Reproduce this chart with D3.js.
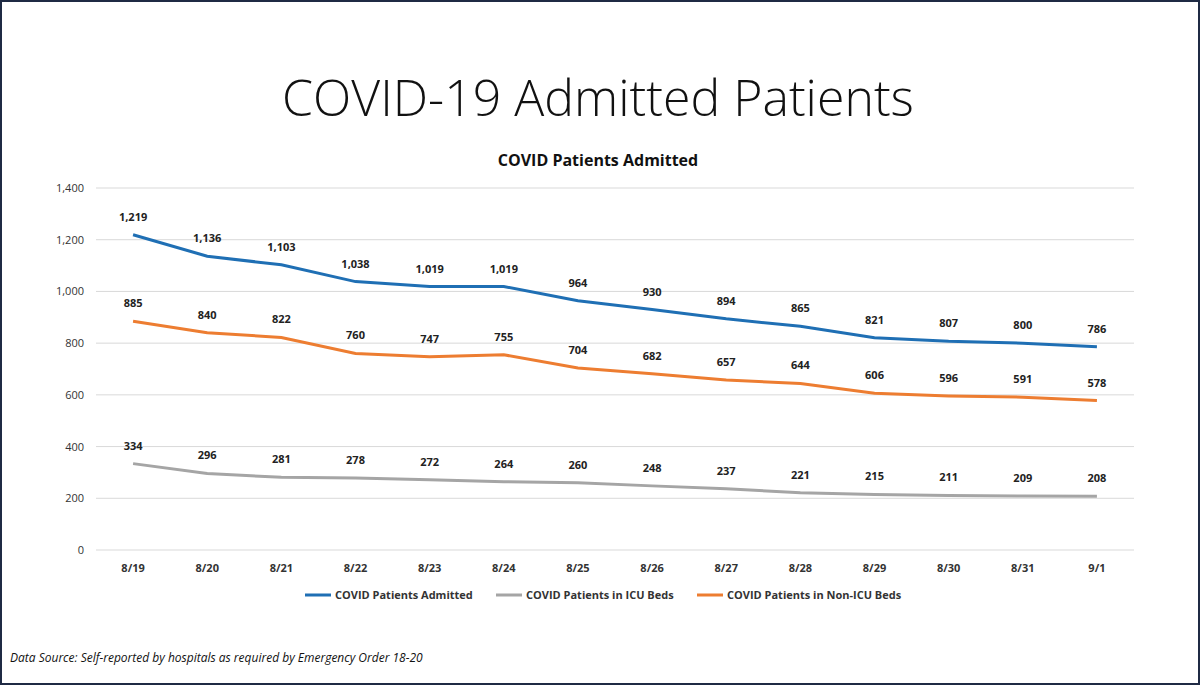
<!DOCTYPE html>
<html><head><meta charset="utf-8">
<script src="https://cdn.jsdelivr.net/npm/d3@7"></script>
<style>body{margin:0;background:#fff;font-family:"Open Sans",sans-serif}</style>
</head><body>
<div id="main"><svg width="1200" height="685"></svg></div>
<script>
// Chart data
var dates = ["8/19","8/20","8/21","8/22","8/23","8/24","8/25","8/26","8/27","8/28","8/29","8/30","8/31","9/1"];
var admitted = [1219,1136,1103,1038,1019,1019,964,930,894,865,821,807,800,786];
var icu = [334,296,281,278,272,264,260,248,237,221,215,211,209,208];
var nonIcu = [885,840,822,760,747,755,704,682,657,644,606,596,591,578];
var yTicks = [0,200,400,600,800,1000,1200,1400];

var series = [
  {name:"COVID Patients Admitted", values:admitted, color:"#1f6fb4"},
  {name:"COVID Patients in ICU Beds", values:icu, color:"#a5a5a5"},
  {name:"COVID Patients in Non-ICU Beds", values:nonIcu, color:"#ed7d31"}
];

var svg = d3.select("#main").select("svg");
svg.append("rect").attr("x",1).attr("y",1).attr("width",1198).attr("height",683)
  .attr("fill","#fff").attr("stroke","#1f2a44").attr("stroke-width",2);

var xScale = d3.scaleBand().domain(dates).range([96,1134]);
var yScale = d3.scaleLinear().domain([0,1400]).range([550,188]);

// Title
svg.append("text").attr("x",598).attr("y",116).attr("text-anchor","middle")
  .attr("font-size",50).attr("font-weight",300).attr("fill","#111").text("COVID-19 Admitted Patients");
svg.append("text").attr("x",598).attr("y",166).attr("text-anchor","middle")
  .attr("font-size",16).attr("font-weight",700).attr("fill","#111").text("COVID Patients Admitted");

// Gridlines
svg.append("g").selectAll("line").data(yTicks).join("line")
  .attr("x1",96).attr("x2",1134)
  .attr("y1",function(d){return yScale(d);}).attr("y2",function(d){return yScale(d);})
  .attr("stroke","#d9d9d9");

// Axes
var yAxis = d3.axisLeft(yScale).tickValues(yTicks).tickSize(0).tickPadding(12).tickFormat(d3.format(","));
var yG = svg.append("g").attr("transform","translate(96,0)").call(yAxis);
yG.select(".domain").remove();
yG.selectAll("text").attr("font-size",11).attr("fill","#333").attr("font-family","Open Sans");

var xAxis = d3.axisBottom(xScale).tickSize(0).tickPadding(14);
var xG = svg.append("g").attr("transform","translate(0,550)").call(xAxis);
xG.select(".domain").remove();
xG.selectAll("text").attr("font-size",11).attr("font-weight",700).attr("fill","#333").attr("font-family","Open Sans");

// Lines and labels
var fmt = d3.format(",");
series.forEach(function(s) {
  var line = d3.line()
    .x(function(d,i){return xScale(dates[i]) + xScale.bandwidth()/2;})
    .y(function(d){return yScale(d);});
  svg.append("path").datum(s.values).attr("d",line)
    .attr("fill","none").attr("stroke",s.color).attr("stroke-width",3);
  svg.append("g").selectAll("text").data(s.values).join("text")
    .attr("x",function(d,i){return xScale(dates[i]) + xScale.bandwidth()/2;})
    .attr("y",function(d){return yScale(d) - 14;})
    .attr("text-anchor","middle").attr("font-size",11).attr("font-weight",700).attr("fill","#222")
    .text(function(d){return fmt(d);});
});

// Legend
var legendX = [305,496,697];
series.forEach(function(s,i) {
  var g = svg.append("g").attr("transform","translate("+legendX[i]+",595)");
  g.append("line").attr("x1",0).attr("x2",26).attr("stroke",s.color).attr("stroke-width",3);
  g.append("text").attr("x",30).attr("y",4).attr("font-size",11).attr("font-weight",700)
    .attr("fill","#333").text(s.name);
});

// Footer
svg.append("text").attr("x",10).attr("y",662).attr("font-size",12).attr("font-style","italic")
  .attr("fill","#111").text("Data Source: Self-reported by hospitals as required by Emergency Order 18-20");
</script>
</body></html>
